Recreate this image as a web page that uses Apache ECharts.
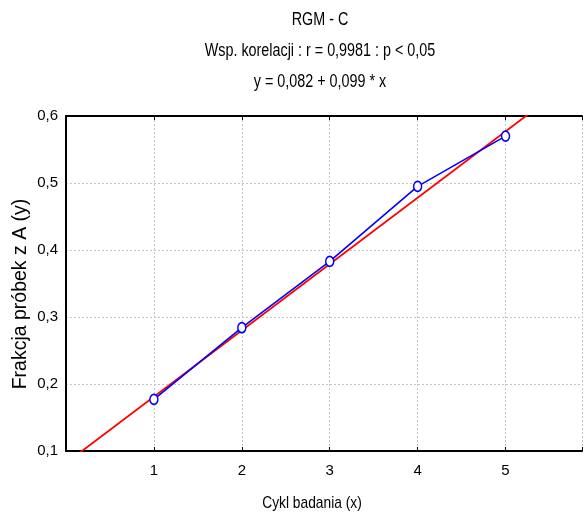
<!DOCTYPE html>
<html><head><meta charset="utf-8">
<script src="https://cdn.jsdelivr.net/npm/echarts@6/dist/echarts.min.js"></script>
<style>html,body{margin:0;padding:0;background:#fff}#c{width:585px;height:515px}</style>
</head><body><div id="c"></div>
<script>
const cycles = [1, 2, 3, 4, 5];
const fractions = [0.177, 0.284, 0.383, 0.495, 0.570];
const xTicks = [1, 2, 3, 4, 5];
const yTicks = ['0,1', '0,2', '0,3', '0,4', '0,5', '0,6'];
const fitIntercept = 0.082;
const fitSlope = 0.099;
const fitRange = [0, 5.87];
const titleLines = ['RGM - C', 'Wsp. korelacji : r = 0,9981 : p < 0,05', 'y = 0,082 + 0,099 * x'];
const xName = 'Cykl badania (x)';
const yName = 'Frakcja próbek z A (y)';

const font = 'Liberation Sans, Arial, sans-serif';
const chart = echarts.init(document.getElementById('c'), null, {renderer: 'canvas'});
const fitLine = fitRange.map(x => [x, fitIntercept + fitSlope * x]);
const fmt = v => v.toFixed(1).replace('.', ',');
const titleY = [20, 51, 82];

chart.setOption({
  animation: false,
  backgroundColor: '#fff',
  graphic: titleLines.map((t, i) => ({
    type: 'text', x: 320, y: titleY[i], scaleX: 0.82,
    style: {text: t, font: '17.5px ' + font, fill: '#000', textAlign: 'center', textVerticalAlign: 'middle'}
  })).concat([
    {type: 'text', x: 312, y: 503, scaleX: 0.81,
     style: {text: xName, font: '17px ' + font, fill: '#000', textAlign: 'center', textVerticalAlign: 'middle'}},
    {type: 'text', x: 21, y: 294, rotation: Math.PI / 2,
     style: {text: yName, font: '19.5px ' + font, fill: '#000', textAlign: 'center', textVerticalAlign: 'middle'}}
  ]),
  grid: {left: 66, right: 0, top: 116, bottom: 64},
  xAxis: [{
    type: 'value', min: 0, max: fitRange[1], interval: 1,
    axisLine: {show: true, lineStyle: {color: '#000', width: 2}},
    axisTick: {show: true, inside: true, length: 4, lineStyle: {color: '#000'}},
    axisLabel: {margin: 12, fontFamily: font, fontSize: 15, color: '#000',
      formatter: v => xTicks.includes(v) ? String(v) : ''},
    splitLine: {show: true, lineStyle: {color: '#c4c4c4', type: [2, 2]}}
  }, {
    type: 'value', position: 'top', min: 0, max: fitRange[1], interval: 1,
    axisLine: {show: true, lineStyle: {color: '#000', width: 2}},
    axisTick: {show: true, inside: true, length: 4, lineStyle: {color: '#000'}},
    axisLabel: {show: false}, splitLine: {show: false}
  }],
  yAxis: {
    type: 'value', min: 0.1, max: 0.6, interval: 0.1,
    axisLine: {show: true, lineStyle: {color: '#000', width: 2}},
    axisTick: {show: false},
    axisLabel: {margin: 8, fontFamily: font, fontSize: 15, color: '#000',
      formatter: v => yTicks.includes(fmt(v)) ? fmt(v) : ''},
    splitLine: {show: true, lineStyle: {color: '#c4c4c4', type: [2, 2]}}
  },
  series: [{
    type: 'line', data: fitLine, clip: true, showSymbol: false, symbol: 'none',
    lineStyle: {color: '#ff0000', width: 1.8}, z: 2
  }, {
    type: 'line', data: cycles.map((c, i) => [c, fractions[i]]),
    symbol: 'circle', symbolSize: [8, 10], showSymbol: true,
    itemStyle: {color: '#fff', borderColor: '#0000ff', borderWidth: 1.6},
    lineStyle: {color: '#0000ff', width: 1.6}, z: 3
  }]
});
</script></body></html>
